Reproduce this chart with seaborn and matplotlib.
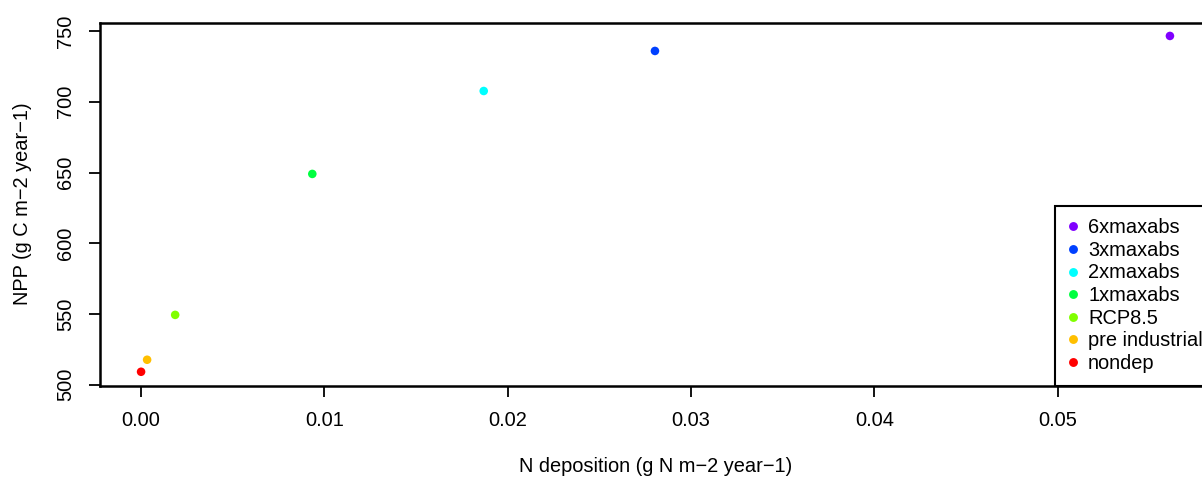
import matplotlib
matplotlib.use("Agg")
import matplotlib.pyplot as plt
import seaborn as sns
import pandas as pd
from matplotlib.lines import Line2D

labels = ["nondep", "pre industrial", "RCP8.5", "1xmaxabs", "2xmaxabs", "3xmaxabs", "6xmaxabs"]
n_dep = [0.0, 0.00033, 0.00186, 0.00934, 0.01869, 0.02803, 0.05612]
npp = [509.2, 517.7, 549.4, 649.0, 707.6, 735.9, 746.5]
colors = ["#FF0000", "#FFBF00", "#80FF00", "#00FF40", "#00FFFF", "#0040FF", "#8000FF"]
xticks = [0.00, 0.01, 0.02, 0.03, 0.04, 0.05]
yticks = [500, 550, 600, 650, 700, 750]

sns.set_theme(style="white")
plt.rcParams['font.family'] = ['Liberation Sans', 'DejaVu Sans']
plt.rcParams['text.color'] = 'black'
plt.rcParams['axes.labelcolor'] = 'black'

df = pd.DataFrame({"x": n_dep, "y": npp, "label": labels})

W, H = 1202, 480
FS = 14.4
fig = plt.figure(figsize=(W / 100, H / 100), dpi=100)
ax = fig.add_axes([100 / W, (H - 385.5) / H, 1111 / W, 363 / H])

sns.scatterplot(data=df, x="x", y="y", hue="label", palette=dict(zip(labels, colors)),
                s=38, linewidth=0, ax=ax, legend=False, zorder=3)

ax.set_xlim(-0.00224, 0.05836)
ax.set_ylim(499.5, 756)
ax.set_xticks(xticks)
ax.set_xticklabels([f"{v:.2f}" for v in xticks])
ax.set_yticks(yticks)
ax.set_yticklabels([str(v) for v in yticks], rotation=90, va="center")
ax.tick_params(axis="both", direction="out", length=8, width=1.3, colors="black",
               labelsize=FS, pad=10, bottom=True, left=True)
for sp in ax.spines.values():
    sp.set_visible(True)
    sp.set_color("black")
    sp.set_linewidth(1.8)
ax.set_xlabel("N deposition (g N m\u22122 year\u22121)", fontsize=FS, labelpad=20)
ax.set_ylabel("NPP (g C m\u22122 year\u22121)", fontsize=FS, labelpad=17)

handles = [Line2D([], [], marker="o", linestyle="none", markersize=6.4,
                  markerfacecolor=c, markeredgewidth=0) for c in colors[::-1]]
leg = fig.legend(handles, labels[::-1], loc="lower left",
                 bbox_to_anchor=(1055 / W, (H - 385.5) / H), fontsize=FS,
                 frameon=True, fancybox=False, edgecolor="black", framealpha=1,
                 borderpad=0.63, labelspacing=0.18, handletextpad=0.52,
                 handlelength=0.5, borderaxespad=0)
leg.get_frame().set_linewidth(1.5)
for t in leg.get_texts():
    t.set_color("black")

fig.savefig("out.png", dpi=100)
